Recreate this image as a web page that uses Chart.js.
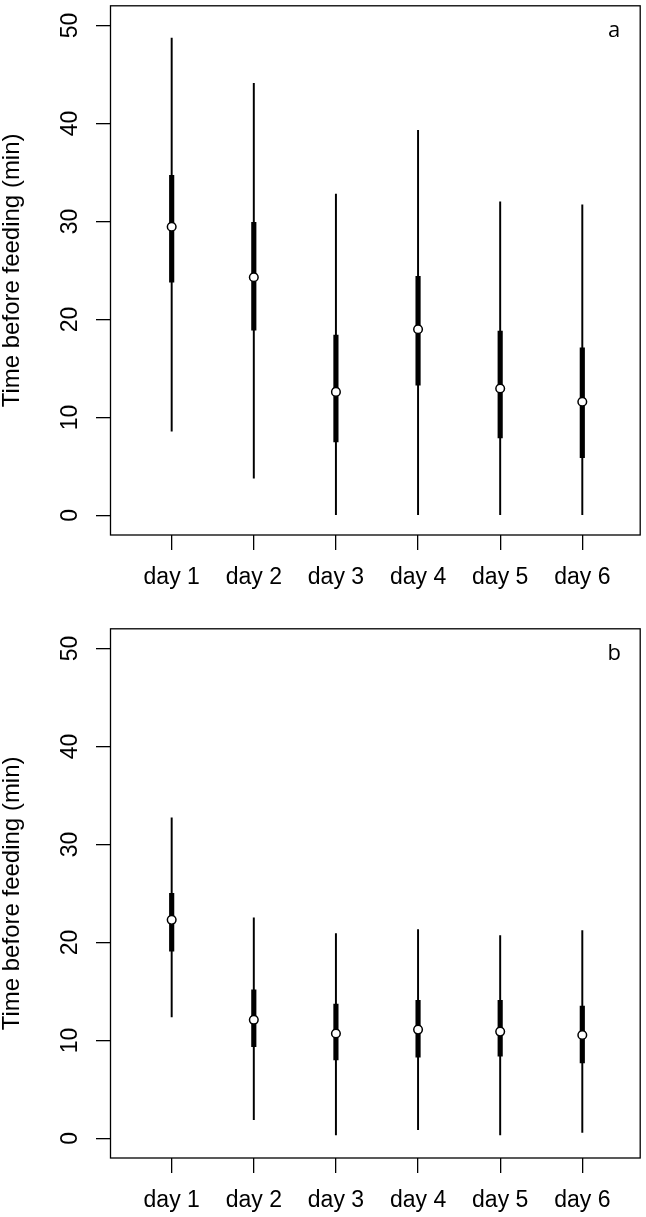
<!DOCTYPE html>
<html>
<head>
<meta charset="utf-8">
<script src="https://cdn.jsdelivr.net/npm/chart.js@4"></script>
<style>
  body { margin: 0; background: #fff; }
  canvas { position: absolute; left: 0; }
  #chartA { top: 0; }
  #chartB { top: 623px; }
</style>
</head>
<body>
<canvas id="chartA" width="646" height="594"></canvas>
<canvas id="chartB" width="646" height="594"></canvas>
<script>
const days = ["day 1", "day 2", "day 3", "day 4", "day 5", "day 6"];
const yTicks = [0, 10, 20, 30, 40, 50];

// panel a
const aLow  = [8.6, 3.8, 0, 0, 0, 0];
const aHigh = [48.7, 44.1, 32.8, 39.3, 32.0, 31.7];
const aQ1   = [23.8, 18.9, 7.5, 13.3, 7.9, 5.9];
const aQ3   = [34.7, 29.9, 18.4, 24.4, 18.8, 17.1];
const aMid  = [29.45, 24.3, 12.6, 19.0, 12.95, 11.6];

// panel b
const bLow  = [12.4, 1.9, 0.35, 0.9, 0.35, 0.6];
const bHigh = [32.7, 22.5, 20.9, 21.3, 20.7, 21.2];
const bQ1   = [19.1, 9.35, 8.0, 8.3, 8.4, 7.7];
const bQ3   = [25.0, 15.15, 13.7, 14.1, 14.1, 13.5];
const bMid  = [22.3, 12.1, 10.7, 11.1, 10.9, 10.55];

const frame = {
  id: "frame",
  afterDraw(chart, args, opts) {
    const a = chart.chartArea;
    const ctx = chart.ctx;
    ctx.save();
    ctx.strokeStyle = "#000";
    ctx.lineWidth = 1.3;
    ctx.strokeRect(a.left, a.top, a.right - a.left, a.bottom - a.top);
    ctx.fillStyle = "#000";
    ctx.font = "22px 'Open Sans'";
    ctx.textAlign = "center";
    ctx.textBaseline = "alphabetic";
    ctx.fillText(opts.letter, a.right - 26, 37);
    ctx.restore();
  }
};

function makeChart(id, letter, low, high, q1, q3, mid) {
  const pts = arr => arr.map((v, i) => ({ x: i, y: v }));
  const rng = (lo, hi) => lo.map((v, i) => ({ x: i, y: [v, hi[i]] }));
  return new Chart(document.getElementById(id), {
    type: "bar",
    data: {
      datasets: [
        { type: "scatter", data: pts(mid), showLine: false, order: 0,
          pointRadius: 4.3, pointHoverRadius: 4.3, pointBackgroundColor: "#fff",
          pointBorderColor: "#000", pointBorderWidth: 1.5 },
        { data: rng(q1, q3), backgroundColor: "#000", barThickness: 4.5, grouped: false, order: 1 },
        { data: rng(low, high), backgroundColor: "#000", barThickness: 1.3, grouped: false, order: 2 }
      ]
    },
    options: {
      responsive: false,
      animation: false,
      layout: { padding: { top: 2, right: 4.5, left: 0, bottom: 0 } },
      plugins: { legend: { display: false }, tooltip: { enabled: false }, frame: { letter } },
      scales: {
        x: {
          type: "linear", min: -0.745, max: 5.705, offset: false,
          afterBuildTicks: s => { s.ticks = days.map((d, i) => ({ value: i })); },
          afterFit: s => { s.height = 59; s.paddingLeft = 0; s.paddingRight = 0; },
          border: { display: false },
          grid: { offset: false, drawOnChartArea: false, drawTicks: true, tickLength: 15, color: "#000", lineWidth: 1.3 },
          ticks: { callback: v => days[v], color: "#000", padding: 14, maxRotation: 0,
                   font: { family: "'Liberation Sans'", size: 23 } }
        },
        y: {
          min: -2, max: 52,
          afterBuildTicks: s => { s.ticks = yTicks.map(v => ({ value: v })); },
          afterFit: s => { s.width = 110.5; s.paddingTop = 0; s.paddingBottom = 0; },
          border: { display: false },
          grid: { drawOnChartArea: false, drawTicks: true, tickLength: 14.5, color: "#000", lineWidth: 1.3 },
          ticks: { color: "#000", padding: 13, minRotation: 90, maxRotation: 90, crossAlign: "center",
                   font: { family: "'Liberation Sans'", size: 23 } },
          title: { display: true, text: "Time before feeding (min)", color: "#000",
                   padding: { top: 0, bottom: 0 },
                   font: { family: "'Liberation Sans'", size: 24, lineHeight: 1.0 } }
        }
      }
    },
    plugins: [frame]
  });
}

makeChart("chartA", "a", aLow, aHigh, aQ1, aQ3, aMid);
makeChart("chartB", "b", bLow, bHigh, bQ1, bQ3, bMid);
</script>
</body>
</html>
